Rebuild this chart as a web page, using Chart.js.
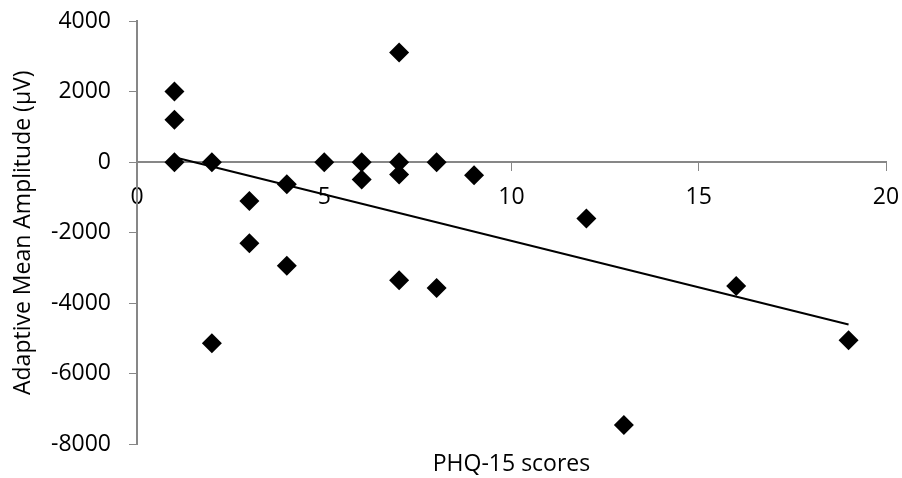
<!DOCTYPE html>
<html>
<head>
<meta charset="utf-8">
<script src="https://cdn.jsdelivr.net/npm/chart.js@4"></script>
<style>
  html, body { margin: 0; padding: 0; background: #ffffff; }
  #wrap { width: 902px; height: 478px; }
</style>
</head>
<body>
<div id="wrap"><canvas id="c" width="902" height="478"></canvas></div>
<script>
// PHQ-15 scores (x) and adaptive mean amplitude in microvolts (y)
const phqScores = [1, 1, 1, 2, 2, 3, 3, 4, 4, 5, 6, 6, 7, 7, 7, 7, 8, 8, 9, 12, 13, 16, 19];
const amplitudes = [2000, 1200, 0, 0, -5130, -1100, -2300, -630, -2940, 0, 0, -490, 3110, 0, -350, -3350, 0, -3565, -370, -1600, -7450, -3510, -5050];
// linear trendline endpoints
const trendX = [1, 19];
const trendY = [140, -4600];
// axis ticks
const xTicks = [0, 5, 10, 15, 20];
const yTicks = [-8000, -6000, -4000, -2000, 0, 2000, 4000];

const FONT = '"Open Sans", Lato, sans-serif';
const AXIS_GREY = '#878787';

const points = phqScores.map((x, i) => ({ x: x, y: amplitudes[i] }));
const trend = trendX.map((x, i) => ({ x: x, y: trendY[i] }));

new Chart(document.getElementById('c'), {
  type: 'scatter',
  data: {
    datasets: [
      {
        label: 'Trend',
        data: trend,
        showLine: true,
        borderColor: '#000000',
        borderWidth: 2,
        pointRadius: 0,
        fill: false,
        order: 0
      },
      {
        label: 'Data',
        data: points,
        pointStyle: 'rectRot',
        pointRadius: 10,
        pointBackgroundColor: '#000000',
        pointBorderColor: '#000000',
        pointBorderWidth: 0,
        order: 1
      }
    ]
  },
  options: {
    responsive: false,
    animation: false,
    layout: { padding: { left: 0, right: 16, top: 21, bottom: 0 } },
    plugins: {
      legend: { display: false },
      tooltip: { enabled: false },
      title: {
        display: true,
        position: 'bottom',
        fullSize: false,
        text: 'PHQ-15 scores',
        color: '#000000',
        font: { family: FONT, size: 23, weight: 'normal' },
        padding: { top: 6, bottom: 0 }
      }
    },
    scales: {
      x: {
        type: 'linear',
        position: { y: 0 },
        min: xTicks[0],
        max: xTicks[xTicks.length - 1],
        afterBuildTicks: (scale) => { scale.ticks = xTicks.map(v => ({ value: v })); },
        afterFit: (scale) => { scale.paddingLeft = 0; scale.paddingRight = 0; },
        ticks: {
          color: '#000000',
          font: { family: FONT, size: 23 },
          padding: 14,
          maxRotation: 0,
          callback: (v) => String(v)
        },
        grid: {
          drawOnChartArea: false,
          drawTicks: true,
          tickLength: 8,
          tickColor: AXIS_GREY,
          color: AXIS_GREY
        },
        border: { display: true, color: AXIS_GREY, width: 2 }
      },
      y: {
        type: 'linear',
        position: 'left',
        min: yTicks[0],
        max: yTicks[yTicks.length - 1],
        afterBuildTicks: (scale) => { scale.ticks = yTicks.map(v => ({ value: v })); },
        afterFit: (scale) => { scale.width = 137; scale.paddingTop = 0; scale.paddingBottom = 0; },
        ticks: {
          color: '#000000',
          font: { family: FONT, size: 23 },
          padding: 18,
          callback: (v) => String(v)
        },
        grid: {
          drawOnChartArea: false,
          drawTicks: true,
          tickLength: 8,
          tickColor: AXIS_GREY,
          color: AXIS_GREY
        },
        border: { display: true, color: AXIS_GREY, width: 2 },
        title: {
          display: true,
          text: 'Adaptive Mean Amplitude (μV)',
          color: '#000000',
          font: { family: FONT, size: 23, weight: 'normal' },
          padding: { top: 10, bottom: 0 }
        }
      }
    }
  }
});
</script>
</body>
</html>
